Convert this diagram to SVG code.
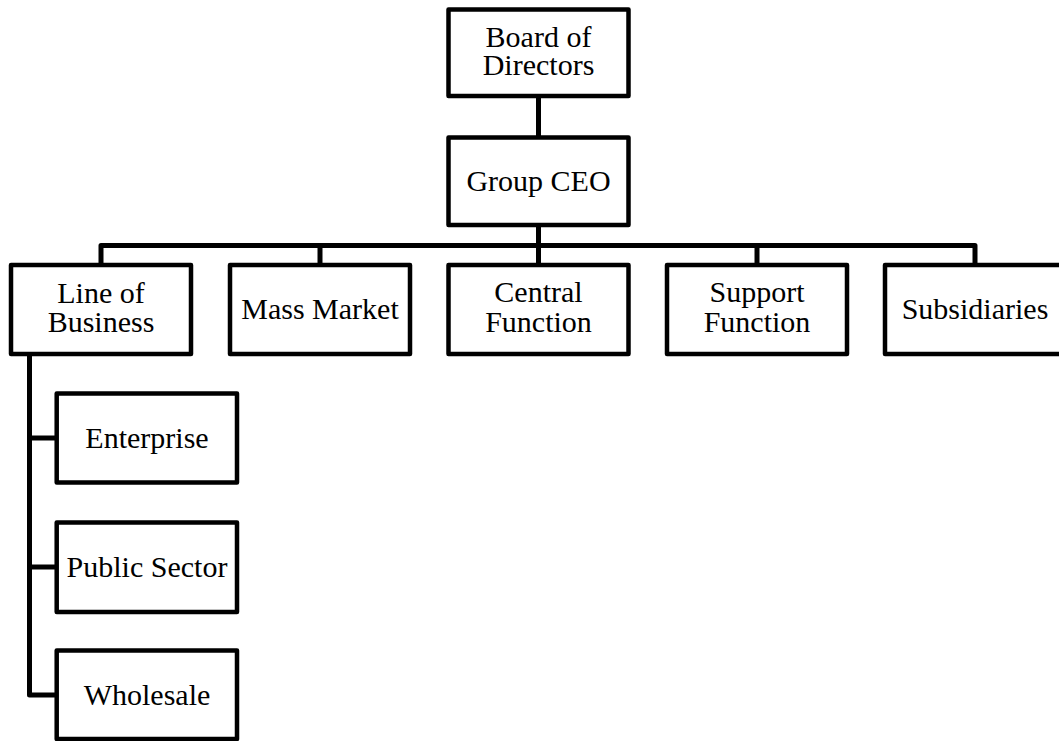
<svg xmlns="http://www.w3.org/2000/svg" width="1059" height="741" viewBox="0 0 1059 741">
<style>
.box{fill:#fff;stroke:#000;stroke-width:4.5;stroke-linejoin:round}
.con{fill:none;stroke:#000;stroke-width:5;stroke-linejoin:round}
text{font-family:"Liberation Serif","Times New Roman",serif;font-size:30px;fill:#000;text-anchor:middle}
</style>
<rect width="1059" height="741" fill="#fff"/>
<g id="connectors">
<path class="con" d="M538.5,96 V137.5"/>
<path class="con" d="M538.5,225 V265"/>
<path class="con" d="M101,265 V245.5 H975 V265"/>
<path class="con" d="M320,245.5 V265"/>
<path class="con" d="M757,245.5 V265"/>
<path class="con" d="M29.5,353 V695 H57"/>
<path class="con" d="M29.5,438 H57"/>
<path class="con" d="M29.5,567 H57"/>
</g>
<g id="board">
<rect class="box" x="448.5" y="9.5" width="180" height="86.5"/>
<text x="538.5" y="47">Board of</text>
<text x="538.5" y="75">Directors</text>
</g>
<g id="ceo">
<rect class="box" x="448.5" y="137.5" width="180" height="87.5"/>
<text x="538.5" y="191">Group CEO</text>
</g>
<g id="line-of-business">
<rect class="box" x="11" y="265" width="180" height="89"/>
<text x="101" y="302.5">Line of</text>
<text x="101" y="332">Business</text>
</g>
<g id="mass-market">
<rect class="box" x="230" y="265" width="180" height="89"/>
<text x="320" y="319">Mass Market</text>
</g>
<g id="central-function">
<rect class="box" x="448.5" y="265" width="180" height="89"/>
<text x="538.5" y="302">Central</text>
<text x="538.5" y="331.5">Function</text>
</g>
<g id="support-function">
<rect class="box" x="667" y="265" width="180" height="89"/>
<text x="757" y="302">Support</text>
<text x="757" y="331.5">Function</text>
</g>
<g id="subsidiaries">
<rect class="box" x="885" y="265" width="180" height="89"/>
<text x="975" y="319">Subsidiaries</text>
</g>
<g id="enterprise">
<rect class="box" x="56.7" y="393.5" width="180.3" height="89"/>
<text x="147" y="448">Enterprise</text>
</g>
<g id="public-sector">
<rect class="box" x="56.7" y="522.5" width="180.3" height="89.5"/>
<text x="147" y="577">Public Sector</text>
</g>
<g id="wholesale">
<rect class="box" x="56.7" y="650.5" width="180.3" height="88.5"/>
<text x="147" y="705">Wholesale</text>
</g>
</svg>
